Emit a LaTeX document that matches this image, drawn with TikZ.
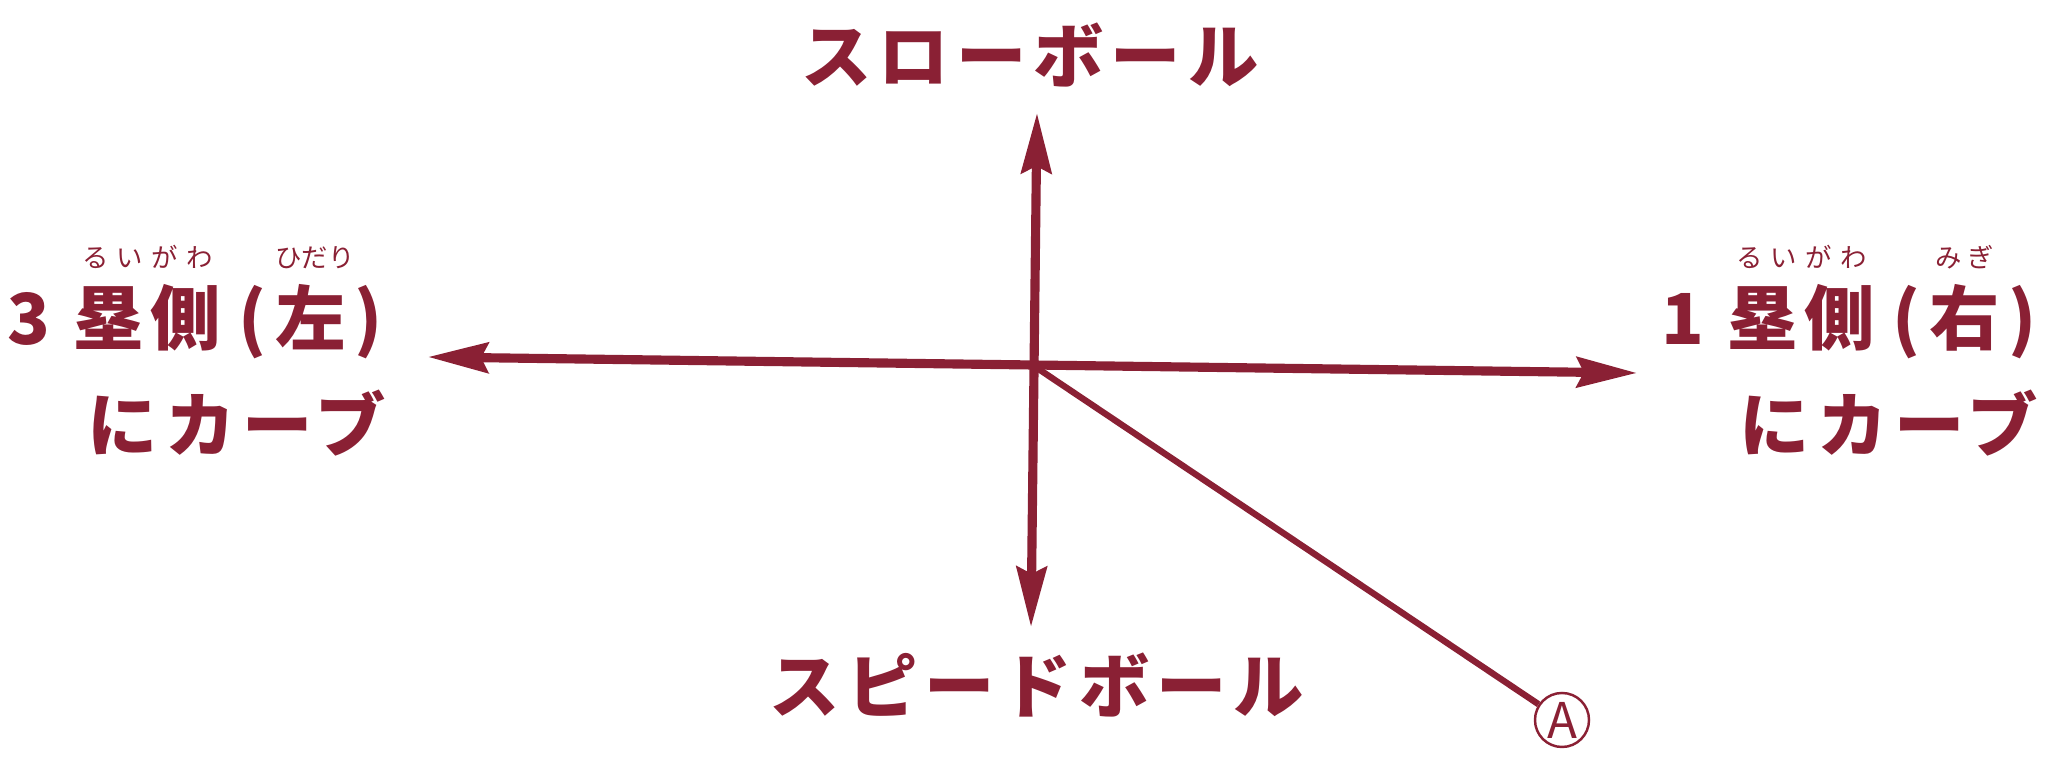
\documentclass[tikz,border=0pt]{standalone}
\usepackage{fontspec}
\usepackage{tikz}
\usetikzlibrary{positioning,arrows.meta}
\newfontfamily\jpfont{Noto Sans CJK JP}[LetterSpace=10]
\newfontfamily\jpruby{Noto Sans CJK JP}
\definecolor{inkred}{RGB}{138,32,52}
% furigana over a base word
\newcommand{\furi}[2]{%
  \leavevmode\setbox0\hbox{#1}%
  \rlap{\raisebox{1.1em}[0pt][0pt]{\hbox to \wd0{\jpruby\mdseries\fontsize{7.5pt}{7.5pt}\selectfont #2}}}%
  \box0}
\newcommand{\paren}[1]{\kern0.25em(\kern0.12em#1\kern0.12em)}
\tikzset{
  axisline/.style={
    <->, >={Stealth[length=6mm,width=3mm,inset=0.7mm]},
    draw=inkred, line width=2.6pt
  },
  pathline/.style={
    draw=inkred, line width=1.8pt
  },
  balltext/.style={
    text=inkred, inner sep=0pt,
    font=\jpfont\bfseries\fontsize{20pt}{24pt}\selectfont
  },
  marknode/.style={
    circle, draw=inkred, line width=0.7pt, minimum size=0.54cm, inner sep=0pt,
    text=inkred, font=\jpruby\fontsize{14pt}{14pt}\selectfont
  }
}

\begin{document}
\begin{tikzpicture}[x=0.01cm, y=-0.01cm]
  \useasboundingbox (0,0) rectangle (2054,774);

  \coordinate (origin) at (1034,366);
  \coordinate (slowtip) at (1037,113);
  \coordinate (speedtip) at (1031,627);
  \coordinate (thirdtip) at (428,357);
  \coordinate (firsttip) at (1637,373);

  \node[balltext] (slowlbl) at (1030,55) {スローボール};
  \node[balltext] (speedlbl) at (1037,685) {スピードボール};

  \node[balltext] (thirdlbl) at (195,322) {3 \furi{塁側}{\hfil る\hfil い\hfil が\hfil わ\hfil}\paren{\furi{左}{\hfil ひ\hfil だ\hfil り\hfil}}};
  \node[balltext] (thirdcurve) at (237,423) {にカーブ};
  \node[balltext] (firstlbl) at (1849,322) {1 \furi{塁側}{\hfil る\hfil い\hfil が\hfil わ\hfil}\paren{\furi{右}{\hfil み\hfil ぎ\hfil}}};
  \node[balltext] (firstcurve) at (1889,423) {にカーブ};

  \node[marknode] (markA) at (1562,720) {A};

  \draw[axisline] (speedtip) -- (slowtip);
  \draw[axisline] (thirdtip) -- (firsttip);
  \draw[pathline] (origin) -- (markA);
\end{tikzpicture}
\end{document}
